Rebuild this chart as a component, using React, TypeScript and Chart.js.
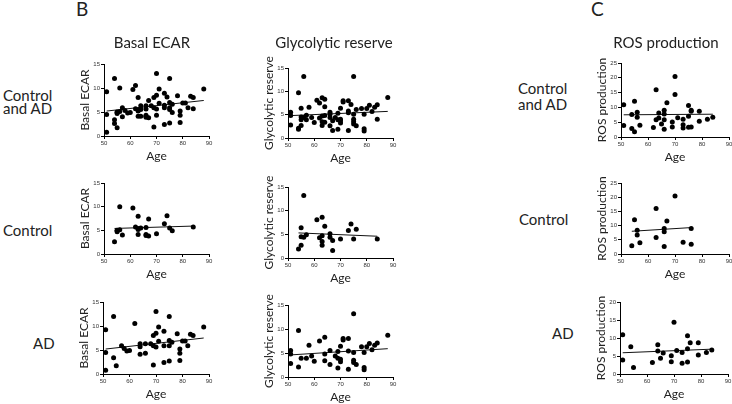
import React, { useEffect, useRef } from "react";
import { Chart, registerables } from "chart.js";

Chart.register(...registerables);

// ---------- data ----------
const ageCtrlBasal = [54, 55, 55, 55, 56, 56, 57, 61, 62, 63, 63, 63, 63, 64, 66, 66, 66, 67, 67, 70, 73, 74, 75, 76, 84];
const ctrlBasal = [2.6, 4.7, 5.0, 4.9, 10.0, 5.1, 4.0, 9.7, 5.7, 8.0, 4.1, 5.2, 5.4, 5.5, 5.6, 3.9, 4.1, 3.8, 7.4, 4.3, 6.4, 8.1, 5.5, 4.9, 5.7];

const ageCtrlGly = [54, 55, 55, 55, 56, 56, 57, 61, 62, 63, 63, 63, 63, 64, 66, 66, 67, 67, 70, 73, 74, 75, 76, 84];
const ctrlGly = [1.9, 6.4, 2.7, 4.5, 13.2, 4.4, 4.9, 8.1, 4.3, 8.6, 4.7, 3.5, 2.7, 6.7, 5.1, 4.4, 3.7, 1.6, 4.0, 5.8, 7.2, 4.0, 6.1, 4.0];

const ageCtrlRos = [54, 55, 56, 56, 57, 63, 63, 66, 66, 66, 67, 70, 73, 76, 76];
const ctrlRos = [2.9, 12.1, 8.4, 6.7, 4.0, 16.0, 5.8, 9.0, 7.8, 2.6, 11.6, 20.4, 4.1, 3.4, 9.0];

const ageAD = [51, 51, 51, 54, 54, 55, 57, 58, 59, 60, 62, 64, 64, 64, 66, 66, 68, 69, 69, 69, 70, 70, 70, 71, 71, 73, 73, 73, 75, 75, 75, 75, 76, 78, 79, 79, 79, 80, 81, 82, 83, 84, 88];
const adBasal = [9.2, 4.5, 0.8, 12.0, 3.4, 1.7, 5.9, 5.3, 4.8, 4.9, 10.5, 6.3, 5.7, 4.1, 6.3, 4.3, 6.3, 8.0, 1.9, 5.9, 13.0, 8.5, 5.6, 9.8, 6.8, 8.9, 5.9, 2.4, 12.0, 7.0, 5.9, 2.7, 6.6, 8.4, 5.2, 4.3, 2.8, 6.9, 6.9, 5.9, 8.3, 8.0, 9.8];
const adGly = [5.5, 4.8, 2.8, 9.7, 2.1, 3.9, 3.9, 6.6, 4.4, 3.3, 7.5, 8.3, 4.8, 3.4, 5.5, 2.6, 4.4, 3.9, 5.3, 1.9, 3.7, 3.2, 6.4, 7.7, 8.0, 8.0, 5.4, 1.6, 13.2, 5.1, 3.5, 3.0, 2.6, 6.3, 5.1, 2.0, 1.5, 6.3, 7.0, 5.7, 6.6, 7.1, 8.7];

const ageADRos = [51, 51, 54, 55, 62, 64, 64, 65, 66, 69, 69, 70, 71, 73, 73, 75, 75, 75, 76, 79, 79, 82, 84];
const adRos = [10.9, 3.9, 7.6, 1.8, 3.2, 8.1, 6.4, 4.4, 5.8, 5.1, 3.4, 14.4, 6.5, 6.0, 3.0, 10.6, 7.0, 3.3, 8.7, 8.7, 5.3, 6.0, 6.7];

// regression line end points
const trendAllBasalAge = [51, 88];
const trendAllBasal = [5.2, 7.4];
const trendAllGlyAge = [51, 88];
const trendAllGly = [4.8, 5.7];
const trendAllRosAge = [51, 84];
const trendAllRos = [7.5, 7.7];
const trendCtrlBasalAge = [54, 84];
const trendCtrlBasal = [5.4, 5.9];
const trendCtrlGlyAge = [54, 84];
const trendCtrlGly = [5.3, 4.6];
const trendCtrlRosAge = [54, 76];
const trendCtrlRos = [8.0, 9.3];
const trendADBasalAge = [51, 88];
const trendADBasal = [5.2, 7.5];
const trendADGlyAge = [51, 88];
const trendADGly = [4.6, 5.9];
const trendADRosAge = [51, 84];
const trendADRos = [5.9, 6.9];

const xTicks = [50, 60, 70, 80, 90];

// ---------- components ----------
type PanelProps = {
  left: number;
  right: number;
  top: number;
  bottom: number;
  yMax: number;
  yTitle: string;
  ages: number[];
  values: number[];
  tAges: number[];
  tValues: number[];
};

const W = 26; // y axis box width
const PT = 16; // top padding
const PR = 7; // right padding
const H = 27; // x axis box height

function Panel(p: PanelProps) {
  const ref = useRef<HTMLCanvasElement | null>(null);
  const width = W + (p.right - p.left) + PR;
  const height = PT + (p.bottom - p.top) + H;
  useEffect(() => {
    if (!ref.current) return;
    const chart = new Chart(ref.current, {
      type: "scatter",
      data: {
        datasets: [
          {
            type: "scatter",
            data: p.ages.map((a, i) => ({ x: a, y: p.values[i] })),
            pointRadius: 2.5,
            pointBackgroundColor: "#000",
            pointBorderColor: "#000",
            pointBorderWidth: 0,
          },
          {
            type: "line",
            data: p.tAges.map((a, i) => ({ x: a, y: p.tValues[i] })),
            borderColor: "#111",
            borderWidth: 1,
            pointRadius: 0,
            fill: false,
          },
        ],
      } as any,
      options: {
        responsive: false,
        animation: false,
        devicePixelRatio: 1,
        layout: { padding: { top: PT, right: PR, left: 0, bottom: 0 } },
        plugins: { legend: { display: false }, tooltip: { enabled: false } },
        scales: {
          x: {
            type: "linear",
            min: xTicks[0],
            max: xTicks[xTicks.length - 1],
            afterBuildTicks: (s: any) => {
              s.ticks = xTicks.map((v) => ({ value: v }));
            },
            ticks: {
              font: { size: 6, family: "Liberation Sans" },
              color: "#333",
              padding: 1,
              maxRotation: 0,
            },
            grid: { drawOnChartArea: false, tickLength: 3, color: "#000" },
            border: { color: "#000", width: 1 },
            title: {
              display: true,
              text: "Age",
              font: { size: 12, family: "Lato" },
              color: "#222",
              padding: 0,
            },
            afterFit: (s: any) => {
              s.height = H;
            },
          },
          y: {
            type: "linear",
            min: 0,
            max: p.yMax,
            ticks: {
              stepSize: 5,
              font: { size: 6, family: "Liberation Sans" },
              color: "#333",
              padding: 1,
            },
            grid: { drawOnChartArea: false, tickLength: 3, color: "#000" },
            border: { color: "#000", width: 1 },
            title: {
              display: true,
              text: p.yTitle,
              font: { size: 12, family: "Lato" },
              color: "#222",
              padding: 0,
            },
            afterFit: (s: any) => {
              s.width = W;
            },
          },
        },
      } as any,
    });
    return () => chart.destroy();
  }, []);
  return (
    <canvas
      ref={ref}
      width={width}
      height={height}
      style={{ position: "absolute", left: p.left - W, top: p.top - PT, width, height }}
    />
  );
}

function Label(props: { x: number; baseline: number; size: number; text: string; center?: boolean }) {
  const { x, baseline, size, text, center } = props;
  return (
    <div
      style={{
        position: "absolute",
        left: x,
        top: baseline - 0.887 * size,
        fontFamily: "Lato",
        fontSize: size,
        lineHeight: `${size}px`,
        color: "#222",
        whiteSpace: "nowrap",
        transform: center ? "translateX(-50%)" : undefined,
        zIndex: 2,
      }}
    >
      {text}
    </div>
  );
}

export default function App() {
  const allBasalAge = ageCtrlBasal.concat(ageAD);
  const allBasal = ctrlBasal.concat(adBasal);
  const allGlyAge = ageCtrlGly.concat(ageAD);
  const allGly = ctrlGly.concat(adGly);
  const allRosAge = ageCtrlRos.concat(ageADRos);
  const allRos = ctrlRos.concat(adRos);
  return (
    <div
      style={{
        position: "fixed",
        left: 0,
        top: 0,
        width: 732,
        height: 404,
        overflow: "hidden",
        background: "#fff",
      }}
    >
      <Label x={76} baseline={16} size={19} text="B" />
      <Label x={591} baseline={16} size={19} text="C" />
      <Label x={152} baseline={48} size={15} text="Basal ECAR" center />
      <Label x={334} baseline={48} size={15} text="Glycolytic reserve" center />
      <Label x={666} baseline={48} size={15} text="ROS production" center />

      <Label x={3} baseline={101} size={15} text="Control" />
      <Label x={3} baseline={114} size={15} text="and AD" />
      <Label x={3} baseline={236} size={15} text="Control" />
      <Label x={33} baseline={349} size={15} text="AD" />

      <Label x={518} baseline={94} size={15} text="Control" />
      <Label x={518} baseline={110} size={15} text="and AD" />
      <Label x={519} baseline={225} size={15} text="Control" />
      <Label x={552} baseline={339} size={15} text="AD" />

      <Panel left={104} right={209} top={64} bottom={136} yMax={15} yTitle="Basal ECAR" ages={allBasalAge} values={allBasal} tAges={trendAllBasalAge} tValues={trendAllBasal} />
      <Panel left={288} right={393} top={68} bottom={138} yMax={15} yTitle="Glycolytic reserve" ages={allGlyAge} values={allGly} tAges={trendAllGlyAge} tValues={trendAllGly} />
      <Panel left={621} right={729} top={63} bottom={137} yMax={25} yTitle="ROS production" ages={allRosAge} values={allRos} tAges={trendAllRosAge} tValues={trendAllRos} />

      <Panel left={104} right={209} top={183} bottom={254} yMax={15} yTitle="Basal ECAR" ages={ageCtrlBasal} values={ctrlBasal} tAges={trendCtrlBasalAge} tValues={trendCtrlBasal} />
      <Panel left={288} right={393} top={187} bottom={258} yMax={15} yTitle="Glycolytic reserve" ages={ageCtrlGly} values={ctrlGly} tAges={trendCtrlGlyAge} tValues={trendCtrlGly} />
      <Panel left={621} right={729} top={183} bottom={254} yMax={25} yTitle="ROS production" ages={ageCtrlRos} values={ctrlRos} tAges={trendCtrlRosAge} tValues={trendCtrlRos} />

      <Panel left={103} right={209} top={302} bottom={374} yMax={15} yTitle="Basal ECAR" ages={ageAD} values={adBasal} tAges={trendADBasalAge} tValues={trendADBasal} />
      <Panel left={288} right={393} top={305} bottom={377} yMax={15} yTitle="Glycolytic reserve" ages={ageAD} values={adGly} tAges={trendADGlyAge} tValues={trendADGly} />
      <Panel left={620} right={728} top={302} bottom={374} yMax={20} yTitle="ROS production" ages={ageADRos} values={adRos} tAges={trendADRosAge} tValues={trendADRos} />
    </div>
  );
}
